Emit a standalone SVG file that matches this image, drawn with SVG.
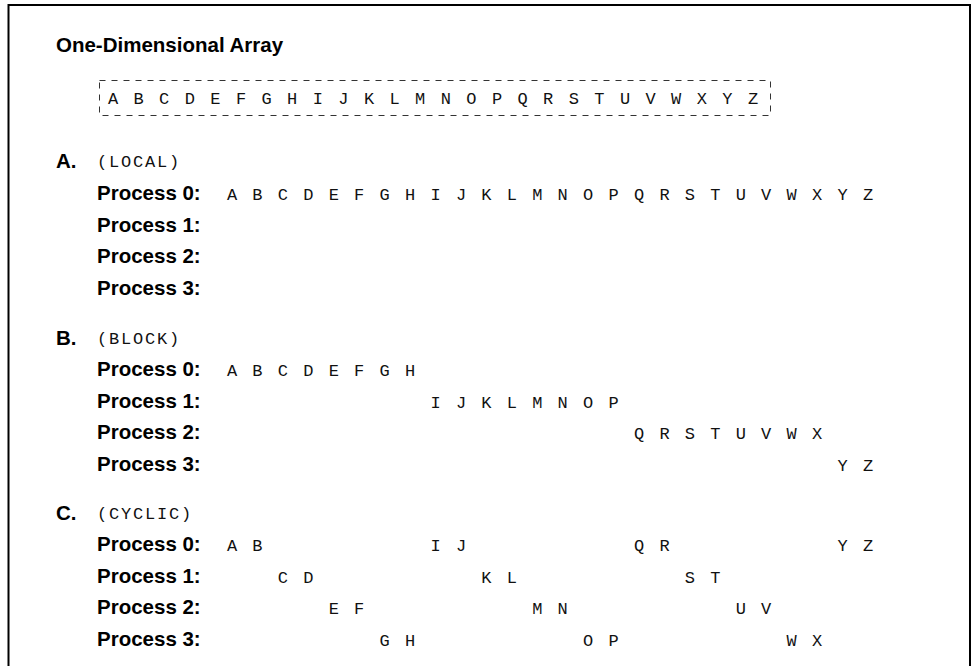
<svg xmlns="http://www.w3.org/2000/svg" width="974" height="666" viewBox="0 0 974 666">
<style>
.h{font-family:"Liberation Sans",Arial,sans-serif;font-weight:bold;font-size:20.5px;fill:#000}
.m{font-family:"Liberation Mono","Courier New",monospace;font-size:17px;letter-spacing:1.8px;fill:#111}
.l{font-family:"Liberation Mono","Courier New",monospace;font-size:17px;fill:#111;text-anchor:middle}
</style>
<rect x="0" y="0" width="974" height="666" fill="#fff"/>
<path d="M8.5 680 V5 H970 V680" fill="none" stroke="#000" stroke-width="2"/>
<g id="title"><text class="h" x="56" y="52">One-Dimensional Array</text></g>
<g id="array">
<rect x="99.5" y="80.5" width="671" height="35" fill="none" stroke="#333" stroke-width="1" stroke-dasharray="6 6"/>
<text class="l" y="103.5" x="113 138.6 164.2 189.8 215.4 241 266.6 292.2 317.8 343.4 369 394.6 420.2 445.8 471.4 497 522.6 548.2 573.8 599.4 625 650.6 676.2 701.8 727.4 753">ABCDEFGHIJKLMNOPQRSTUVWXYZ</text>
</g>
<g id="sectionA">
<text class="h" x="56" y="168">A.</text><text class="m" x="97" y="167">(LOCAL)</text>
<text class="h" x="97" y="200">Process 0:</text>
<text class="l" y="199.5" x="232 257.4 282.9 308.3 333.8 359.2 384.6 410.1 435.5 461 486.4 511.8 537.3 562.7 588.2 613.6 639 664.5 689.9 715.4 740.8 766.2 791.7 817.1 842.6 868">ABCDEFGHIJKLMNOPQRSTUVWXYZ</text>
<text class="h" x="97" y="232">Process 1:</text>
<text class="h" x="97" y="263">Process 2:</text>
<text class="h" x="97" y="295">Process 3:</text>
</g>
<g id="sectionB">
<text class="h" x="56" y="345">B.</text><text class="m" x="97" y="344">(BLOCK)</text>
<text class="h" x="97" y="376">Process 0:</text>
<text class="l" y="375.5" x="232 257.4 282.9 308.3 333.8 359.2 384.6 410.1">ABCDEFGH</text>
<text class="h" x="97" y="408">Process 1:</text>
<text class="l" y="407.5" x="435.5 461 486.4 511.8 537.3 562.7 588.2 613.6">IJKLMNOP</text>
<text class="h" x="97" y="439">Process 2:</text>
<text class="l" y="438.5" x="639 664.5 689.9 715.4 740.8 766.2 791.7 817.1">QRSTUVWX</text>
<text class="h" x="97" y="471">Process 3:</text>
<text class="l" y="470.5" x="842.6 868">YZ</text>
</g>
<g id="sectionC">
<text class="h" x="56" y="520">C.</text><text class="m" x="97" y="519">(CYCLIC)</text>
<text class="h" x="97" y="551">Process 0:</text>
<text class="l" y="550.5" x="232 257.4 435.5 461 639 664.5 842.6 868">ABIJQRYZ</text>
<text class="h" x="97" y="583">Process 1:</text>
<text class="l" y="582.5" x="282.9 308.3 486.4 511.8 689.9 715.4">CDKLST</text>
<text class="h" x="97" y="614">Process 2:</text>
<text class="l" y="613.5" x="333.8 359.2 537.3 562.7 740.8 766.2">EFMNUV</text>
<text class="h" x="97" y="646">Process 3:</text>
<text class="l" y="645.5" x="384.6 410.1 588.2 613.6 791.7 817.1">GHOPWX</text>
</g>
</svg>
